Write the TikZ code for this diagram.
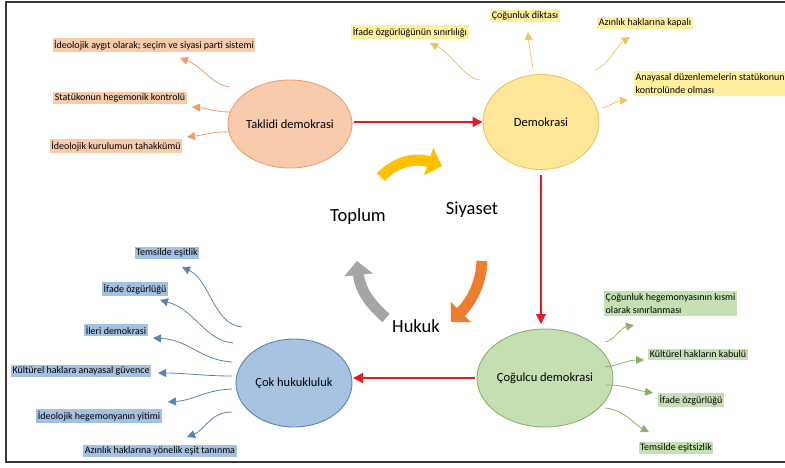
\documentclass[tikz,border=0pt]{standalone}
\usepackage{fontspec}
\setmainfont{Carlito}
\usetikzlibrary{shapes.geometric,arrows.meta}
\definecolor{takfill}{HTML}{F8CBAD}
\definecolor{takline}{HTML}{EDA06C}
\definecolor{demfill}{HTML}{FFE699}
\definecolor{demline}{HTML}{E8C85E}
\definecolor{demlab}{HTML}{FFF0A0}
\definecolor{cokfill}{HTML}{A8C3E2}
\definecolor{cokline}{HTML}{5A83AE}
\definecolor{coklab}{HTML}{A4C0E2}
\definecolor{cogfill}{HTML}{C5DFB2}
\definecolor{cogline}{HTML}{8DB06A}
\definecolor{coglab}{HTML}{C5E0B4}
\definecolor{mainred}{HTML}{E31B23}
\definecolor{cycyel}{HTML}{FFC000}
\definecolor{cycora}{HTML}{ED7D31}
\definecolor{cycgray}{HTML}{A5A5A5}
\definecolor{framecol}{HTML}{3A3A3A}
\begin{document}
\begin{tikzpicture}[x=1pt,y=-1pt,
  ell/.style={ellipse, draw, line width=0.9pt, minimum width=116pt, minimum height=90pt, inner sep=0pt, font=\fontsize{12.5}{14}\selectfont},
  lab/.style={inner xsep=1.5pt, inner ysep=2pt, font=\fontsize{10}{13.5}\selectfont},
  conn/.style={line width=0.8pt, -{Triangle[length=8pt,width=8pt]}},
  mainarrow/.style={draw=mainred, line width=1.3pt, -{Triangle[length=10pt,width=10pt]}},
  cyc/.style={line width=11pt, -{Triangle[length=14pt,width=28pt]}},
  cycword/.style={font=\fontsize{18.5}{20}\selectfont, inner sep=0pt}]
\useasboundingbox (0,0) rectangle (785,467);
% frame
\draw[framecol, line width=1.6pt] (786,2) -- (6,2) -- (6,462) -- (786,462);

% main ellipses
\node[ell, fill=takfill, draw=takline, minimum height=88pt] (tak) at (290,124) {Taklidi demokrasi};
\node[ell, fill=demfill, draw=demline, minimum height=95pt] (dem) at (541,122) {Demokrasi};
\node[ell, fill=cogfill, draw=cogline, minimum height=98pt] (cog) at (545,378) {Çoğulcu demokrasi};
\node[ell, fill=cokfill, draw=cokline, minimum height=88pt] (cok) at (294,383) {Çok hukukluluk};

% red arrows
\draw[mainarrow, shorten <=2pt] (tak.east |- 0,122) -- (dem.west |- 0,122);
\draw[mainarrow, shorten <=5pt, shorten >=4pt] (541,170) -- (541,328);
\draw[mainarrow, shorten <=2pt] (cog.west |- 0,378) -- (353,378);

% cycle words
\node[cycword] (toplum) at (358,217) {Toplum};
\node[cycword] (siyaset) at (472,210) {Siyaset};
\node[cycword] (hukuk) at (416,326) {Hukuk};

% cycle arrows
\draw[cyc, cycyel] (381,177) .. controls (395,162) and (415,157) .. (442,166);
\draw[cyc, cycora] (482,261) .. controls (481,282) and (473,300) .. (451,322);
\draw[cyc, cycgray] (386,318) .. controls (370,304) and (360,290) .. (357,261);

% Taklidi labels
\node[lab, fill=takfill] (t1) at (154,45) {İdeolojik aygıt olarak; seçim ve siyasi parti sistemi};
\node[lab, fill=takfill] (t2) at (120,98) {Statükonun hegemonik kontrolü};
\node[lab, fill=takfill] (t3) at (116,146) {İdeolojik kurulumun tahakkümü};
\coordinate (ts1) at (230,87);  \coordinate (te1) at (180,58);
\coordinate (ts2) at (230,112); \coordinate (te2) at (192,107);
\coordinate (ts3) at (230,132); \coordinate (te3) at (187,137);
\draw[conn, takline] (ts1) .. controls (212,85) and (202,66) .. (te1);
\draw[conn, takline] (ts2) .. controls (216,112) and (205,108) .. (te2);
\draw[conn, takline] (ts3) .. controls (216,131) and (204,135) .. (te3);

% Demokrasi labels
\node[lab, fill=demlab] (d1) at (410,32) {İfade özgürlüğünün sınırlılığı};
\node[lab, fill=demlab] (d2) at (525,16) {Çoğunluk diktası};
\node[lab, fill=demlab] (d3) at (645,23) {Azınlık haklarına kapalı};
\node[lab, fill=demlab, anchor=north west, align=left] (d4) at (634,71) {Anayasal düzenlemelerin statükonun\\kontrolünde olması};
\coordinate (ds1) at (480,80);  \coordinate (de1) at (430,43);
\coordinate (ds2) at (533,68);  \coordinate (de2) at (528,32);
\coordinate (ds3) at (595,70);  \coordinate (de3) at (630,37);
\coordinate (ds4) at (602,108); \coordinate (de4) at (628,100);
\draw[conn, demline] (ds1) .. controls (464,78) and (452,54) .. (de1);
\draw[conn, demline] (ds2) .. controls (531,56) and (529,45) .. (de2);
\draw[conn, demline] (ds3) .. controls (610,64) and (616,46) .. (de3);
\draw[conn, demline] (ds4) .. controls (610,106) and (616,101) .. (de4);

% Cok hukukluluk labels
\node[lab, fill=coklab] (k1) at (167,253) {Temsilde eşitlik};
\node[lab, fill=coklab] (k2) at (135,289) {İfade özgürlüğü};
\node[lab, fill=coklab] (k3) at (116,330) {İleri demokrasi};
\node[lab, fill=coklab] (k4) at (81,371) {Kültürel haklara anayasal güvence};
\node[lab, fill=coklab] (k5) at (99,416) {İdeolojik hegemonyanın yitimi};
\node[lab, fill=coklab] (k6) at (160,451) {Azınlık haklarına yönelik eşit tanınma};
\coordinate (ks1) at (242,327); \coordinate (ke1) at (182,267);
\coordinate (ks2) at (233,343); \coordinate (ke2) at (160,300);
\coordinate (ks3) at (232,362); \coordinate (ke3) at (153,338);
\coordinate (ks4) at (232,376); \coordinate (ke4) at (158,373);
\coordinate (ks5) at (232,389); \coordinate (ke5) at (168,402);
\coordinate (ks6) at (232,412); \coordinate (ke6) at (187,437);
\draw[conn, cokline] (ks1) .. controls (214,325) and (210,280) .. (ke1);
\draw[conn, cokline] (ks2) .. controls (204,340) and (196,310) .. (ke2);
\draw[conn, cokline] (ks3) .. controls (200,360) and (190,340) .. (ke3);
\draw[conn, cokline] (ks4) .. controls (205,376) and (185,373) .. (ke4);
\draw[conn, cokline] (ks5) .. controls (205,390) and (195,400) .. (ke5);
\draw[conn, cokline] (ks6) .. controls (210,412) and (205,430) .. (ke6);

% Cogulcu labels
\node[lab, fill=coglab, anchor=north west, align=left] (g1) at (604,291) {Çoğunluk hegemonyasının kısmi\\olarak sınırlanması};
\node[lab, fill=coglab] (g2) at (698,354) {Kültürel hakların kabulü};
\node[lab, fill=coglab] (g3) at (691,400) {İfade özgürlüğü};
\node[lab, fill=coglab] (g4) at (676,448) {Temsilde eşitsizlik};
\coordinate (gs1) at (605,342); \coordinate (ge1) at (634,325);
\coordinate (gs2) at (605,367); \coordinate (ge2) at (644,360);
\coordinate (gs3) at (605,385); \coordinate (ge3) at (653,393);
\coordinate (gs4) at (605,408); \coordinate (ge4) at (649,432);
\draw[conn, cogline] (gs1) .. controls (615,340) and (620,328) .. (ge1);
\draw[conn, cogline] (gs2) .. controls (620,365) and (628,360) .. (ge2);
\draw[conn, cogline] (gs3) .. controls (620,384) and (636,390) .. (ge3);
\draw[conn, cogline] (gs4) .. controls (625,410) and (635,425) .. (ge4);
\end{tikzpicture}
\end{document}
